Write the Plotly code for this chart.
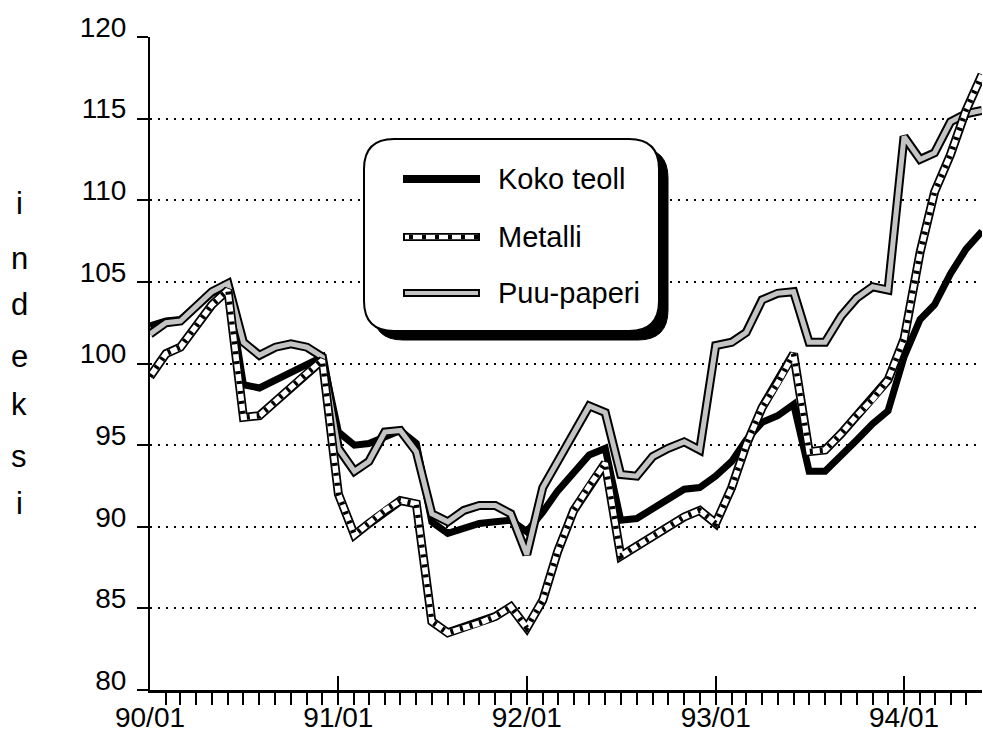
import pandas as pd
import plotly.graph_objects as go

months = pd.date_range("1990-01-01", periods=54, freq="MS")

koko_teoll = [102.3, 102.6, 102.7, 103.5, 104.3, 104.7, 98.7, 98.5, 99.0, 99.5, 100.0, 100.4,
              95.8, 95.0, 95.1, 95.5, 95.9, 95.1, 90.3, 89.6, 89.9, 90.2, 90.3, 90.4,
              89.7, 90.9, 92.2, 93.4, 94.4, 94.8, 90.4, 90.5, 91.1, 91.8, 92.3, 92.4,
              93.1, 94.0, 95.3, 96.4, 96.8, 97.5, 93.4, 93.4, 94.3, 95.3, 96.3, 97.1,
              100.4, 102.7, 103.6, 105.5, 107.0, 108.1]

metalli = [99.2, 100.6, 101.0, 102.3, 103.6, 104.5, 96.7, 96.8, 97.7, 98.6, 99.4, 100.2,
           92.0, 89.5, 90.2, 91.0, 91.6, 91.4, 84.2, 83.5, 83.8, 84.1, 84.5, 85.1,
           83.8, 85.5, 88.5, 91.0, 92.5, 93.9, 88.2, 88.8, 89.4, 90.0, 90.6, 91.0,
           90.2, 92.4, 95.0, 97.3, 98.8, 100.6, 94.6, 94.7, 95.7, 96.8, 97.8, 99.0,
           101.5, 106.8, 110.5, 112.8, 115.5, 117.7]

puu_paperi = [101.8, 102.5, 102.6, 103.5, 104.4, 104.9, 101.3, 100.5, 101.0, 101.2, 101.0, 100.4,
              94.8, 93.4, 94.0, 95.8, 95.9, 94.6, 90.8, 90.3, 91.0, 91.3, 91.3, 90.8,
              88.3, 92.4, 94.0, 95.8, 97.4, 97.0, 93.2, 93.1, 94.3, 94.8, 95.2, 94.7,
              101.1, 101.3, 101.9, 103.9, 104.3, 104.4, 101.3, 101.3, 102.9, 104.0, 104.7, 104.5,
              113.9, 112.5, 112.9, 114.8, 115.3, 115.5]

series_names = ["Koko teoll", "Metalli", "Puu-paperi"]
y_ticks = [80, 85, 90, 95, 100, 105, 110, 115, 120]
y_label = "indeksi"

FONT = "Liberation Sans, Arial, sans-serif"
GREY = "#c4c4c4"
W, H = 983, 735
ML, MR, MT, MB = 150, 1, 37, 45
PW, PH = W - ML - MR, H - MT - MB


def px(x):
    return (x - ML) / PW


def py(y):
    return (H - MB - y) / PH


fig = go.Figure()

fig.add_trace(go.Scatter(x=months, y=koko_teoll, mode="lines",
                         line=dict(color="black", width=7), hoverinfo="skip", showlegend=False))
fig.add_trace(go.Scatter(x=months, y=puu_paperi, mode="lines",
                         line=dict(color="black", width=9), hoverinfo="skip", showlegend=False))
fig.add_trace(go.Scatter(x=months, y=puu_paperi, mode="lines",
                         line=dict(color=GREY, width=5), hoverinfo="skip", showlegend=False))
fig.add_trace(go.Scatter(x=months, y=metalli, mode="lines",
                         line=dict(color="black", width=9), hoverinfo="skip", showlegend=False))
fig.add_trace(go.Scatter(x=months, y=metalli, mode="lines",
                         line=dict(color="white", width=5.5), hoverinfo="skip", showlegend=False))
fig.add_trace(go.Scatter(x=months, y=metalli, mode="lines",
                         line=dict(color="black", width=5.5, dash="3px,7px"), hoverinfo="skip",
                         showlegend=False))


def rounded_path(x0, y0, x1, y1, r):
    pts = [
        f"M {px(x0 + r)},{py(y0)}",
        f"L {px(x1 - r)},{py(y0)}",
        f"Q {px(x1)},{py(y0)} {px(x1)},{py(y0 + r)}",
        f"L {px(x1)},{py(y1 - r)}",
        f"Q {px(x1)},{py(y1)} {px(x1 - r)},{py(y1)}",
        f"L {px(x0 + r)},{py(y1)}",
        f"Q {px(x0)},{py(y1)} {px(x0)},{py(y1 - r)}",
        f"L {px(x0)},{py(y0 + r)}",
        f"Q {px(x0)},{py(y0)} {px(x0 + r)},{py(y0)}",
        "Z",
    ]
    return " ".join(pts)


shapes = []
bx0, by0, bx1, by1 = 364, 139, 659, 331
shapes.append(dict(type="path", xref="paper", yref="paper", layer="above",
                   path=rounded_path(bx0 + 9, by0 + 9, bx1 + 9, by1 + 9, 30),
                   fillcolor="black", line=dict(color="black", width=1)))
shapes.append(dict(type="path", xref="paper", yref="paper", layer="above",
                   path=rounded_path(bx0, by0, bx1, by1, 30),
                   fillcolor="white", line=dict(color="black", width=2)))

lx0, lx1 = 403, 480
ys = [179, 237, 293]
shapes.append(dict(type="line", xref="paper", yref="paper", layer="above",
                   x0=px(lx0), x1=px(lx1), y0=py(ys[0]), y1=py(ys[0]),
                   line=dict(color="black", width=8)))
shapes.append(dict(type="line", xref="paper", yref="paper", layer="above",
                   x0=px(lx0), x1=px(lx1), y0=py(ys[1]), y1=py(ys[1]),
                   line=dict(color="black", width=8)))
shapes.append(dict(type="line", xref="paper", yref="paper", layer="above",
                   x0=px(lx0 + 2), x1=px(lx1 - 2), y0=py(ys[1]), y1=py(ys[1]),
                   line=dict(color="white", width=4.5)))
shapes.append(dict(type="line", xref="paper", yref="paper", layer="above",
                   x0=px(lx0 + 6), x1=px(lx1 - 2), y0=py(ys[1]), y1=py(ys[1]),
                   line=dict(color="black", width=4.5, dash="4px,9px")))
shapes.append(dict(type="line", xref="paper", yref="paper", layer="above",
                   x0=px(lx0), x1=px(lx1), y0=py(ys[2]), y1=py(ys[2]),
                   line=dict(color="black", width=8)))
shapes.append(dict(type="line", xref="paper", yref="paper", layer="above",
                   x0=px(lx0 + 2), x1=px(lx1 - 2), y0=py(ys[2]), y1=py(ys[2]),
                   line=dict(color=GREY, width=4)))

annotations = []
for name, yy in zip(series_names, ys):
    annotations.append(dict(text=name, xref="paper", yref="paper", x=px(496), y=py(yy),
                            xanchor="left", yanchor="middle", showarrow=False,
                            font=dict(family=FONT, size=29, color="black")))

letter_y = [204, 258, 304, 356, 405, 456, 503]
for ch, yy in zip(y_label, letter_y):
    annotations.append(dict(text=ch, xref="paper", yref="paper", x=px(19), y=py(yy),
                            xanchor="center", yanchor="middle", showarrow=False,
                            font=dict(family=FONT, size=31, color="black")))

fig.update_layout(
    width=W, height=H,
    margin=dict(l=ML, r=MR, t=MT, b=MB, pad=0, autoexpand=False),
    paper_bgcolor="white", plot_bgcolor="white",
    showlegend=False,
    shapes=shapes,
    annotations=annotations,
    font=dict(family=FONT, size=27, color="black"),
)

fig.update_xaxes(
    type="date", automargin=False,
    range=["1990-01-01", "1994-06-01"],
    dtick="M12", tick0="1990-01-01", tickformat="%y/%m",
    ticks="inside", ticklen=14, tickwidth=2, tickcolor="black",
    minor=dict(dtick="M1", ticks="outside", ticklen=12, tickwidth=2, tickcolor="black",
               showgrid=False),
    showline=True, linecolor="black", linewidth=3,
    showgrid=False, zeroline=False,
    tickfont=dict(family=FONT, size=28, color="black"),
)

fig.update_yaxes(
    automargin=False,
    range=[80, 120],
    tickvals=y_ticks, ticktext=[str(v) for v in y_ticks],
    ticks="outside", ticklen=11, tickwidth=2, tickcolor="black",
    ticklabelshift=-10, ticklabelstandoff=5,
    showline=True, linecolor="black", linewidth=2,
    showgrid=True, gridcolor="black", gridwidth=1.5, griddash="2px,6px",
    zeroline=False,
    tickfont=dict(family=FONT, size=28, color="black"),
)

fig.write_html(
    "out.html",
    config={"displayModeBar": False},
    post_script="document.body.style.margin='0';document.body.style.overflow='hidden';",
)
